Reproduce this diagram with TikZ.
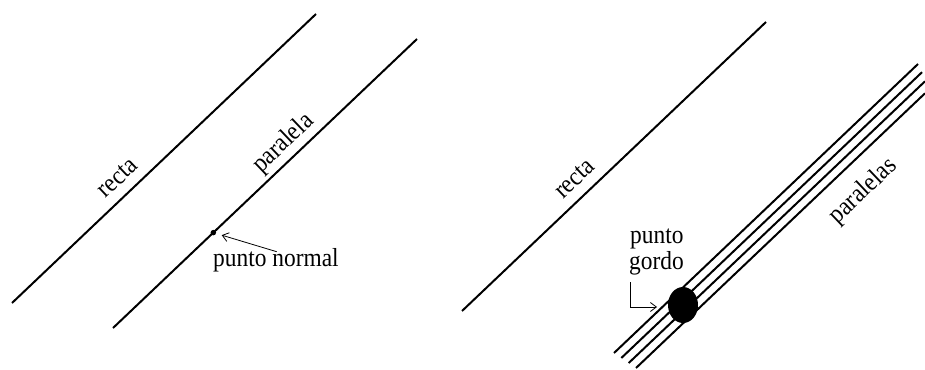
\documentclass[tikz,border=0pt]{standalone}
\usepackage{fontspec}
\setmainfont{Liberation Serif}[FakeStretch=0.9]
\usetikzlibrary{arrows.meta,shapes.geometric}
\begin{document}
\begin{tikzpicture}[x=1pt,y=-1pt,
  ln/.style={line width=2pt},
  lbl/.style={font=\fontsize{26}{28}\selectfont, inner sep=0pt},
  ptr/.style={line width=0.8pt, -{Straight Barb[length=6pt,width=9pt]}}]
\useasboundingbox (0,0) rectangle (925,369);
% left pair
\coordinate (r1a) at (12,303);  \coordinate (r1b) at (316,14);
\coordinate (p1a) at (113,328); \coordinate (p1b) at (417,39);
\draw[ln] (r1a) -- node[lbl, sloped, pos=0.388, above=11pt, anchor=base] (t1) {recta} (r1b);
\draw[ln] (p1a) -- node[lbl, sloped, pos=0.598, above=10pt, anchor=base] (t2) {paralela}
                    node[pos=0.33, circle, fill=black, inner sep=0pt, minimum size=5.5pt] (pn) {} (p1b);
\node[lbl, anchor=base west] (tn) at (213,266.7) {punto normal};
\coordinate (ta) at (276.7,251.7);
\draw[ptr, shorten >=5pt] (ta) -- (pn);
% right group
\coordinate (r2a) at (462,311); \coordinate (r2b) at (766,22);
\draw[ln] (r2a) -- node[lbl, sloped, pos=0.412, above=11pt, anchor=base] (t3) {recta} (r2b);
\coordinate (q0a) at (614,353);   \coordinate (q0b) at (918,64);
\coordinate (q1a) at (621.3,358); \coordinate (q1b) at (922,72.2);
\coordinate (q2a) at (628.7,363); \coordinate (q2b) at (925,81.3);
\coordinate (q3a) at (636,368);   \coordinate (q3b) at (925,93.3);
\draw[ln] (q0a) -- (q0b);
\draw[ln] (q1a) -- (q1b);
\draw[ln] (q2a) -- (q2b);
\draw[ln] (q3a) -- node[lbl, sloped, pos=0.719, below=35pt, anchor=base] (t4) {paralelas} (q3b);
\node[ellipse, fill=black, minimum width=30pt, minimum height=36pt, inner sep=0pt] (gd) at (683,305) {};
\node[lbl, anchor=base west] (tp) at (630,243) {punto};
\node[lbl, anchor=base west] (tg) at (629,269) {gordo};
\coordinate (ga) at (630,282); \coordinate (gb) at (657,307);
\draw[ptr] (ga) |- (gb);
\end{tikzpicture}
\end{document}
